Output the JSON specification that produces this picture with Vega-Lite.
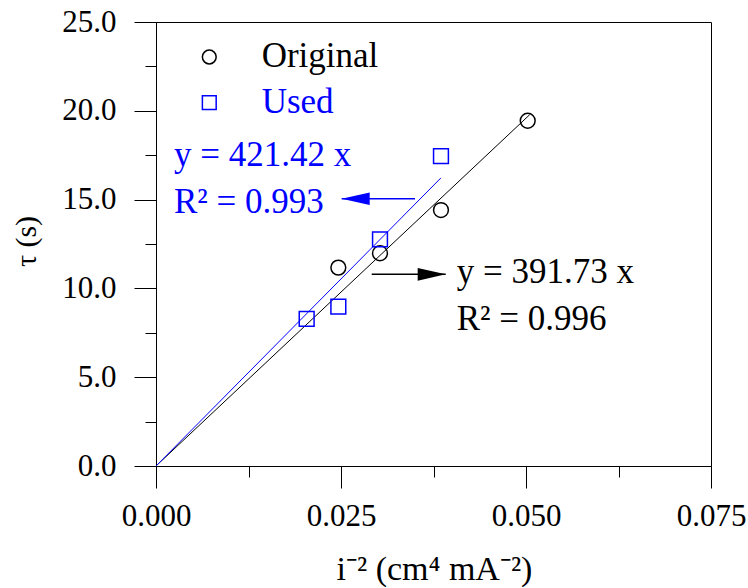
{
  "$schema": "https://vega.github.io/schema/vega-lite/v6.json",
  "autosize": {"type": "none"},
  "padding": {"left": 156, "top": 22, "right": 37, "bottom": 122},
  "width": 555,
  "height": 444,
  "background": "white",
  "config": {
    "view": {"stroke": "black", "strokeWidth": 1},
    "font": "Liberation Serif",
    "axis": {
      "domainColor": "black",
      "tickColor": "black",
      "labelColor": "black",
      "titleColor": "black",
      "labelFont": "Liberation Serif",
      "titleFont": "Liberation Serif",
      "titleFontWeight": "normal",
      "grid": false,
      "labelFlush": false,
      "labelOverlap": false
    }
  },
  "datasets": {
    "points": [
      {"series": "Original", "x": 0.02464, "y": 11.17},
      {"series": "Original", "x": 0.03027, "y": 11.98},
      {"series": "Original", "x": 0.03851, "y": 14.41},
      {"series": "Original", "x": 0.05023, "y": 19.44},
      {"series": "Used", "x": 0.02036, "y": 8.28},
      {"series": "Used", "x": 0.02464, "y": 8.97},
      {"series": "Used", "x": 0.03027, "y": 12.76},
      {"series": "Used", "x": 0.03851, "y": 17.45}
    ],
    "fits": [
      {"series": "Original", "x": 0, "y": 0},
      {"series": "Original", "x": 0.0505, "y": 19.78},
      {"series": "Used", "x": 0, "y": 0},
      {"series": "Used", "x": 0.0385, "y": 16.22}
    ],
    "arrows": [
      {"series": "Used", "x": 0.0350, "tip": 0.02509, "y": 15.05},
      {"series": "Original", "x": 0.02915, "tip": 0.03915, "y": 10.79}
    ],
    "labels": [
      {"series": "Used", "x": 0.00243, "y": 16.91, "text": "y = 421.42 x"},
      {"series": "Used", "x": 0.00243, "y": 14.24, "text": "R² = 0.993"},
      {"series": "Original", "x": 0.04064, "y": 10.30, "text": "y = 391.73 x"},
      {"series": "Original", "x": 0.04064, "y": 7.63, "text": "R² = 0.996"}
    ],
    "legend": [
      {"series": "Original", "sx": 0.0072, "sy": 23.03, "tx": 0.01428, "ty": 22.48},
      {"series": "Used", "sx": 0.0072, "sy": 20.46, "tx": 0.01428, "ty": 19.86}
    ]
  },
  "resolve": {"axis": {"x": "independent", "y": "independent"}},
  "layer": [
    {
      "data": {"name": "fits"},
      "mark": {"type": "line", "strokeWidth": 1},
      "encoding": {
        "x": {
          "field": "x", "type": "quantitative",
          "scale": {"domain": [0, 0.075], "nice": false, "zero": false},
          "axis": {
            "orient": "bottom",
            "values": [0, 0.025, 0.05, 0.075],
            "format": ".3f",
            "tickSize": 22,
            "labelFontSize": 31,
            "labelBaseline": "alphabetic",
            "labelPadding": 37,
            "title": "i⁻² (cm⁴ mA⁻²)",
            "titleFontSize": 34,
            "titleBaseline": "alphabetic",
            "titleX": 278,
            "titleY": 113,
            "titleAlign": "center"
          }
        },
        "y": {
          "field": "y", "type": "quantitative",
          "scale": {"domain": [0, 25], "nice": false, "zero": false},
          "axis": {
            "orient": "left",
            "values": [0, 5, 10, 15, 20, 25],
            "format": ".1f",
            "tickSize": 22,
            "labelFontSize": 31,
            "labelPadding": 18,
            "title": "τ (s)",
            "titleFontSize": 30,
            "titleAngle": -90,
            "titleBaseline": "alphabetic",
            "titleAlign": "center",
            "titleX": -121,
            "titleY": 219
          }
        },
        "detail": {"field": "series"},
        "stroke": {"field": "series", "type": "nominal", "legend": null,
          "scale": {"domain": ["Original", "Used"], "range": ["#000000", "#0000ff"]}}
      }
    },
    {
      "data": {"name": "arrows"},
      "mark": {"type": "rule", "strokeWidth": 1.5},
      "encoding": {
        "x": {"field": "x", "type": "quantitative",
          "axis": {"orient": "bottom", "values": [0.0125, 0.0375, 0.0625], "tickSize": 11, "labels": false, "domain": false, "title": null}},
        "x2": {"field": "tip"},
        "y": {"field": "y", "type": "quantitative",
          "axis": {"orient": "left", "values": [2.5, 7.5, 12.5, 17.5, 22.5], "tickSize": 11, "labels": false, "domain": false, "title": null}},
        "stroke": {"field": "series", "type": "nominal", "legend": null}
      }
    },
    {
      "data": {"name": "arrows"},
      "transform": [{"filter": "datum.series === 'Used'"}],
      "mark": {"type": "point", "filled": true, "opacity": 1, "strokeWidth": 0, "shape": "M0,0L2,-0.45L2,0.45Z", "size": 784},
      "encoding": {
        "x": {"field": "tip", "type": "quantitative", "axis": null},
        "y": {"field": "y", "type": "quantitative", "axis": null},
        "fill": {"field": "series", "type": "nominal", "legend": null,
          "scale": {"domain": ["Original", "Used"], "range": ["#000000", "#0000ff"]}}
      }
    },
    {
      "data": {"name": "arrows"},
      "transform": [{"filter": "datum.series === 'Original'"}],
      "mark": {"type": "point", "filled": true, "opacity": 1, "strokeWidth": 0, "shape": "M0,0L-2,-0.45L-2,0.45Z", "size": 784},
      "encoding": {
        "x": {"field": "tip", "type": "quantitative", "axis": null},
        "y": {"field": "y", "type": "quantitative", "axis": null},
        "fill": {"field": "series", "type": "nominal", "legend": null}
      }
    },
    {
      "data": {"name": "labels"},
      "mark": {"type": "text", "font": "Liberation Serif", "fontSize": 35, "align": "left", "baseline": "alphabetic"},
      "encoding": {
        "x": {"field": "x", "type": "quantitative", "axis": null},
        "y": {"field": "y", "type": "quantitative", "axis": null},
        "text": {"field": "text"},
        "fill": {"field": "series", "type": "nominal", "legend": null}
      }
    },
    {
      "data": {"name": "legend"},
      "mark": {"type": "text", "font": "Liberation Serif", "fontSize": 35, "align": "left", "baseline": "alphabetic"},
      "encoding": {
        "x": {"field": "tx", "type": "quantitative", "axis": null},
        "y": {"field": "ty", "type": "quantitative", "axis": null},
        "text": {"field": "series"},
        "fill": {"field": "series", "type": "nominal", "legend": null}
      }
    },
    {
      "data": {"name": "legend"},
      "mark": {"type": "point", "filled": false, "strokeWidth": 1.5, "size": 190, "opacity": 1},
      "encoding": {
        "x": {"field": "sx", "type": "quantitative", "axis": null},
        "y": {"field": "sy", "type": "quantitative", "axis": null},
        "color": {"field": "series", "type": "nominal", "legend": null,
          "scale": {"domain": ["Original", "Used"], "range": ["#000000", "#0000ff"]}},
        "shape": {"field": "series", "type": "nominal", "legend": null,
          "scale": {"domain": ["Original", "Used"], "range": ["circle", "square"]}}
      }
    },
    {
      "data": {"name": "points"},
      "mark": {"type": "point", "filled": false, "strokeWidth": 1.5, "size": 220, "opacity": 1},
      "encoding": {
        "x": {"field": "x", "type": "quantitative", "axis": null},
        "y": {"field": "y", "type": "quantitative", "axis": null},
        "color": {"field": "series", "type": "nominal", "legend": null},
        "shape": {"field": "series", "type": "nominal", "legend": null}
      }
    }
  ]
}
